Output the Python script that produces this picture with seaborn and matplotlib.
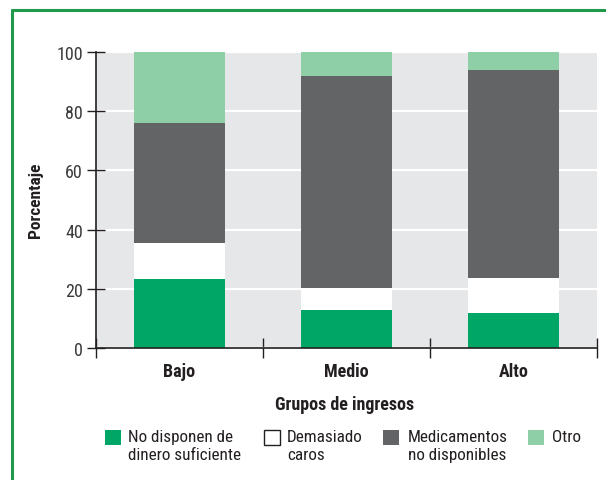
import numpy as np
import pandas as pd
import matplotlib
matplotlib.use("Agg")
import matplotlib.pyplot as plt
from matplotlib.patches import Rectangle
import seaborn as sns
import logging
logging.getLogger("matplotlib.font_manager").setLevel(logging.ERROR)

# ---- data ----
groups = ["Bajo", "Medio", "Alto"]
series = ["No disponen de\ndinero suficiente", "Demasiado\ncaros",
          "Medicamentos\nno disponibles", "Otro"]
no_dinero = [23.3, 12.8, 11.8]
caros = [12.2, 7.4, 11.8]
no_disponibles = [40.5, 71.7, 70.3]
otro = [24.0, 8.1, 6.1]
yticks = [0, 20, 40, 60, 80, 100]

colors = ["#00a665", "#ffffff", "#636466", "#8ecfa8"]

sns.set_theme(style="white")
plt.rcParams["font.family"] = ["Roboto Condensed", "Open Sans Condensed", "Lato", "DejaVu Sans"]

fig = plt.figure(figsize=(6.06, 4.81), dpi=100)
ax = fig.add_axes([96/606, 1-349/481, (597-96)/606, (349-53)/481])
ax.set_facecolor("#e6e7e8")

segs = [no_dinero, caros, no_disponibles, otro]
cum = np.cumsum(np.array(segs), axis=0)
df = pd.DataFrame({"grupo": groups})
for i in range(3, -1, -1):
    df["v"] = cum[i]
    sns.barplot(data=df, x="grupo", y="v", color=colors[i], width=0.54,
                saturation=1, ax=ax, zorder=3, linewidth=0, edgecolor="none")

ax.set_ylim(0, 100)
ax.set_xlim(-0.5, 2.5)
ax.set_yticks(yticks)
ax.set_yticklabels([str(t) for t in yticks], fontsize=13, color="#3a3a3a")
ax.yaxis.grid(True, color="white", linewidth=1.6, zorder=1)
ax.set_axisbelow(True)
ax.set_xticks([0, 1, 2])
ax.set_xticklabels(groups, fontsize=13, fontweight="bold", color="#231f20")
ax.set_xticks([-0.5, 0.5, 1.5, 2.5], minor=True)
ax.tick_params(axis="x", which="major", length=0, pad=10, bottom=True)
ax.tick_params(axis="x", which="minor", length=14, width=1, direction="inout",
               color="#231f20", bottom=True)
ax.tick_params(axis="y", length=13, width=1, direction="inout", color="#231f20",
               pad=3, left=True)
for s in ["top", "right"]:
    ax.spines[s].set_visible(False)
for s in ["left", "bottom"]:
    ax.spines[s].set_color("#231f20")
    ax.spines[s].set_linewidth(1.2)
    ax.spines[s].set_zorder(5)

W, H = 606, 481
ax.set_xlabel("Grupos de ingresos", fontsize=13, fontweight="bold", color="#231f20")
ax.xaxis.set_label_coords((345-96)/(597-96), -(405-349)/(349-53))
ax.xaxis.label.set_va("center")
ax.set_ylabel("Porcentaje", fontsize=12.5, fontweight="bold", color="#231f20")
ax.yaxis.set_label_coords(-(96-36)/(597-96), (349-200)/(349-53))
ax.yaxis.label.set_va("center")

# legend (manual)
sq_x = [105, 264, 383, 528]
txt_x = [128, 287, 408, 552]
for i in range(4):
    fig.patches.append(Rectangle((sq_x[i]/W, 1-446/H), 16/W, 15/H,
                                 transform=fig.transFigure, facecolor=colors[i],
                                 edgecolor="#231f20" if i == 1 else colors[i],
                                 linewidth=1.0 if i == 1 else 0))
    fig.text(txt_x[i]/W, 1-430/H, series[i], fontsize=12.3, color="#231f20",
             va="top", ha="left", linespacing=1.22)

# green frame
fig.add_artist(plt.Line2D([12/W, 12/W], [0, 1-11/H], transform=fig.transFigure,
                          color="#1f9a4a", linewidth=2.2))
fig.add_artist(plt.Line2D([12/W, 1], [1-11/H, 1-11/H], transform=fig.transFigure,
                          color="#1f9a4a", linewidth=2.2))

fig.savefig("out.png", dpi=100)
